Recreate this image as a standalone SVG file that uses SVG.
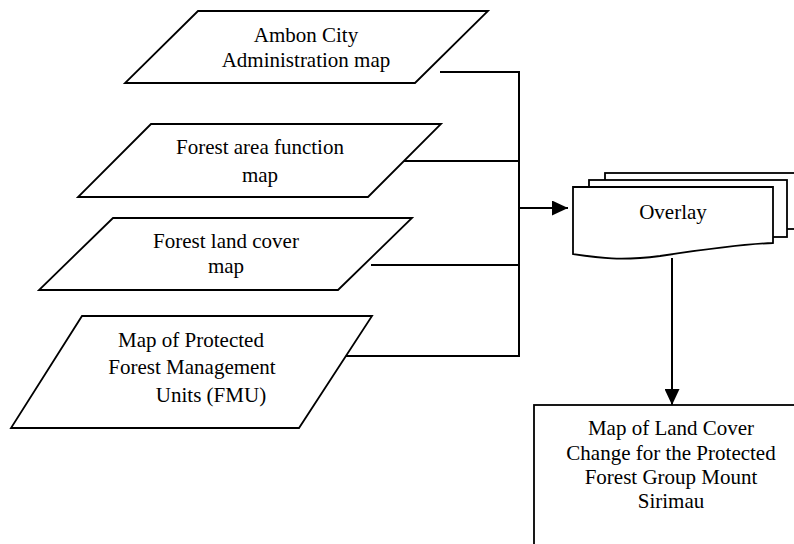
<svg xmlns="http://www.w3.org/2000/svg" width="794" height="544" viewBox="0 0 794 544">
<style>
.shape{fill:#fff;stroke:#000;stroke-width:1.8;stroke-linejoin:miter}
.conn{fill:none;stroke:#000;stroke-width:2}
text{font-family:"Liberation Serif","Times New Roman",serif;font-size:21px;fill:#000;text-anchor:middle}
</style>
<defs>
<marker id="arrow" markerUnits="userSpaceOnUse" markerWidth="16" markerHeight="15" refX="16" refY="7.5" orient="auto">
<path d="M0,0 L16,7.5 L0,15 Z" fill="#000"/>
</marker>
</defs>
<rect width="794" height="544" fill="#fff"/>
<g id="connectors">
<polyline class="conn" points="440,72 519,72 519,356 340,356"/>
<line class="conn" x1="403" y1="161" x2="519" y2="161"/>
<line class="conn" x1="371" y1="265" x2="519" y2="265"/>
<line class="conn" x1="519" y1="208" x2="568" y2="208" marker-end="url(#arrow)"/>
<line class="conn" x1="672" y1="258" x2="672" y2="405" marker-end="url(#arrow)"/>
</g>
<g id="node-ambon">
<polygon class="shape" points="198,11 488,11 415,83 125,83"/>
<text x="306" y="42">Ambon City</text>
<text x="306" y="67">Administration map</text>
</g>
<g id="node-forest-function">
<polygon class="shape" points="151,124 441,124 368,197 78,197"/>
<text x="260" y="154">Forest area function</text>
<text x="260" y="182">map</text>
</g>
<g id="node-forest-landcover">
<polygon class="shape" points="113,218 412,218 338,290 39,290"/>
<text x="226" y="248">Forest land cover</text>
<text x="226" y="273">map</text>
</g>
<g id="node-fmu">
<polygon class="shape" points="82,316 372,316 299,428 11,428"/>
<text x="191" y="347">Map of Protected</text>
<text x="192" y="374">Forest Management</text>
<text x="211" y="402">Units (FMU)</text>
</g>
<g id="node-overlay">
<rect class="shape" x="605" y="173" width="200" height="56"/>
<rect class="shape" x="589" y="180" width="198" height="57"/>
<path class="shape" d="M573,187 H773 V243 C740,244 700,250 660,256 C620,261 600,258 573,254 Z"/>
<text x="673" y="219">Overlay</text>
</g>
<g id="node-result">
<rect class="shape" x="534" y="405" width="280" height="150"/>
<text x="671" y="435">Map of Land Cover</text>
<text x="671" y="460">Change for the Protected</text>
<text x="671" y="484">Forest Group Mount</text>
<text x="671" y="508">Sirimau</text>
</g>
</svg>
